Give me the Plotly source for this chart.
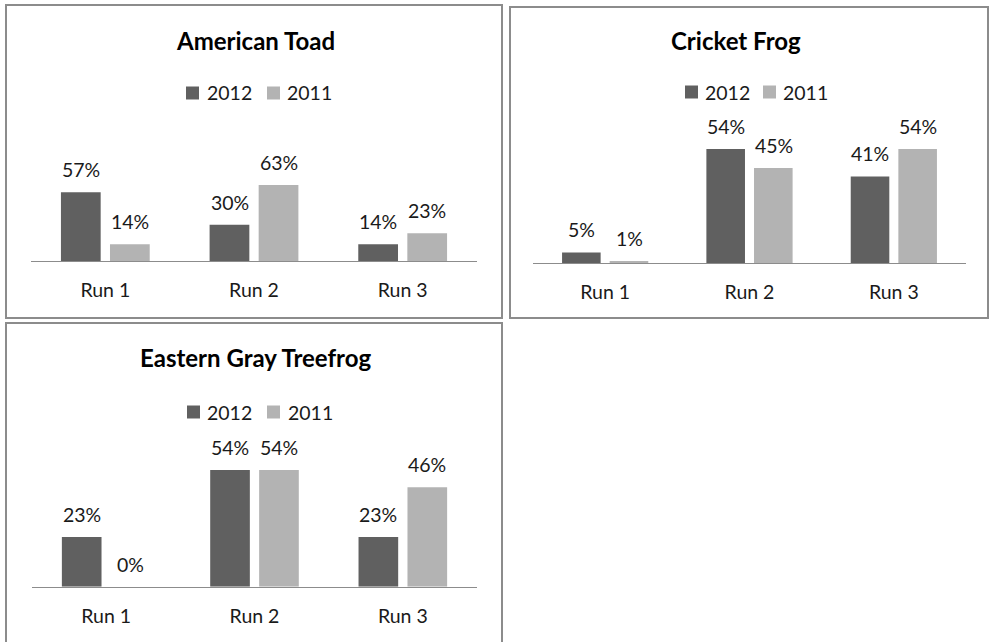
import plotly.graph_objects as go

W, H = 990, 642

# ---- data ----
runs = ["Run 1", "Run 2", "Run 3"]
years = ["2012", "2011"]
species = ["American Toad", "Cricket Frog", "Eastern Gray Treefrog"]
toad_2012 = [0.57, 0.30, 0.14]
toad_2011 = [0.14, 0.63, 0.23]
cricket_2012 = [0.05, 0.54, 0.41]
cricket_2011 = [0.01, 0.45, 0.54]
treefrog_2012 = [0.23, 0.54, 0.23]
treefrog_2011 = [0.00, 0.54, 0.46]

values = [
    [toad_2012, toad_2011],
    [cricket_2012, cricket_2011],
    [treefrog_2012, treefrog_2011],
]

# ---- style ----
FONT = "Lato"
TXT = "#1a1a1a"
COLORS = ["#606060", "#b3b3b3"]
BORDER = "#8c8c8c"

# pixel geometry of each panel
panels = [
    dict(box=(6, 5, 502, 318), px=(31, 477), base=261, ymax=0.80, scale=120.5,
         title=(255, 40), leg_y=93, leg_sq=(186, 267), leg_txt=(205, 285), shift=24.5),
    dict(box=(510, 7, 988, 318), px=(533, 966), base=263, ymax=0.60, scale=211.0,
         title=(736, 40), leg_y=92, leg_sq=(685, 763), leg_txt=(703, 781), shift=24.0),
    dict(box=(6, 323, 502, 660), px=(32, 477), base=586.7, ymax=0.60, scale=216.0,
         title=(255, 358), leg_y=412, leg_sq=(187, 267), leg_txt=(205, 286), shift=24.5),
]


def fx(x):
    return x / W


def fy(y):
    return 1 - y / H


fig = go.Figure()
shapes = []
annotations = []
layout_axes = {}

for i, (p, name, vals) in enumerate(zip(panels, species, values)):
    n = "" if i == 0 else str(i + 1)
    xa, ya = "x" + n, "y" + n
    top_px = p["base"] - p["ymax"] * p["scale"]

    for k, (yr, v) in enumerate(zip(years, vals)):
        fig.add_trace(go.Bar(
            x=runs, y=v, name=yr, xaxis=xa, yaxis=ya,
            marker=dict(color=COLORS[k], line=dict(width=0)),
            showlegend=False, hoverinfo="skip",
        ))
        for r, val in zip(runs, v):
            annotations.append(dict(
                x=r, y=val, xref=xa, yref=ya, text=f"{val * 100:.0f}%",
                showarrow=False, xanchor="center", yanchor="middle",
                xshift=(-1 if k == 0 else 1) * p["shift"], yshift=22.5,
                font=dict(family=FONT, size=19.5, color=TXT),
            ))

    layout_axes["xaxis" + n] = dict(
        domain=[fx(p["px"][0]), fx(p["px"][1])], anchor=ya,
        type="category", showline=True, linecolor=BORDER, linewidth=1,
        showgrid=False, zeroline=False, ticks="", ticklabelstandoff=12,
        tickfont=dict(family=FONT, size=19.5, color=TXT), fixedrange=True,
    )
    layout_axes["yaxis" + n] = dict(
        domain=[fy(p["base"]), fy(top_px)], anchor=xa, range=[0, p["ymax"]],
        visible=False, showgrid=False, zeroline=False, fixedrange=True,
    )

    # panel frame
    x0, y0, x1, y1 = p["box"]
    shapes.append(dict(type="rect", xref="paper", yref="paper",
                       x0=fx(x0), x1=fx(x1), y0=fy(y0), y1=fy(y1),
                       line=dict(color=BORDER, width=2), fillcolor="rgba(0,0,0,0)"))

    # panel title
    annotations.append(dict(
        x=fx(p["title"][0]), y=fy(p["title"][1]), xref="paper", yref="paper",
        text=f"<b>{name}</b>", showarrow=False, xanchor="center", yanchor="middle",
        font=dict(family=FONT, size=24, color="#000000"),
    ))

    # panel legend
    for k, yr in enumerate(years):
        sx = p["leg_sq"][k]
        shapes.append(dict(type="rect", xref="paper", yref="paper",
                           x0=fx(sx), x1=fx(sx + 13),
                           y0=fy(p["leg_y"] - 6.5), y1=fy(p["leg_y"] + 6.5),
                           line=dict(width=0), fillcolor=COLORS[k]))
        annotations.append(dict(
            x=fx(p["leg_txt"][k]), y=fy(p["leg_y"]), xref="paper", yref="paper",
            text=yr, showarrow=False, xanchor="left", yanchor="middle",
            font=dict(family=FONT, size=19.5, color=TXT),
        ))

fig.update_layout(
    width=W, height=H, margin=dict(l=0, r=0, t=0, b=0),
    paper_bgcolor="white", plot_bgcolor="white",
    barmode="group", bargap=0.34, bargroupgap=0.19,
    shapes=shapes, annotations=annotations, showlegend=False,
    **layout_axes,
)

fig.write_html("out.html", config=dict(displayModeBar=False))
